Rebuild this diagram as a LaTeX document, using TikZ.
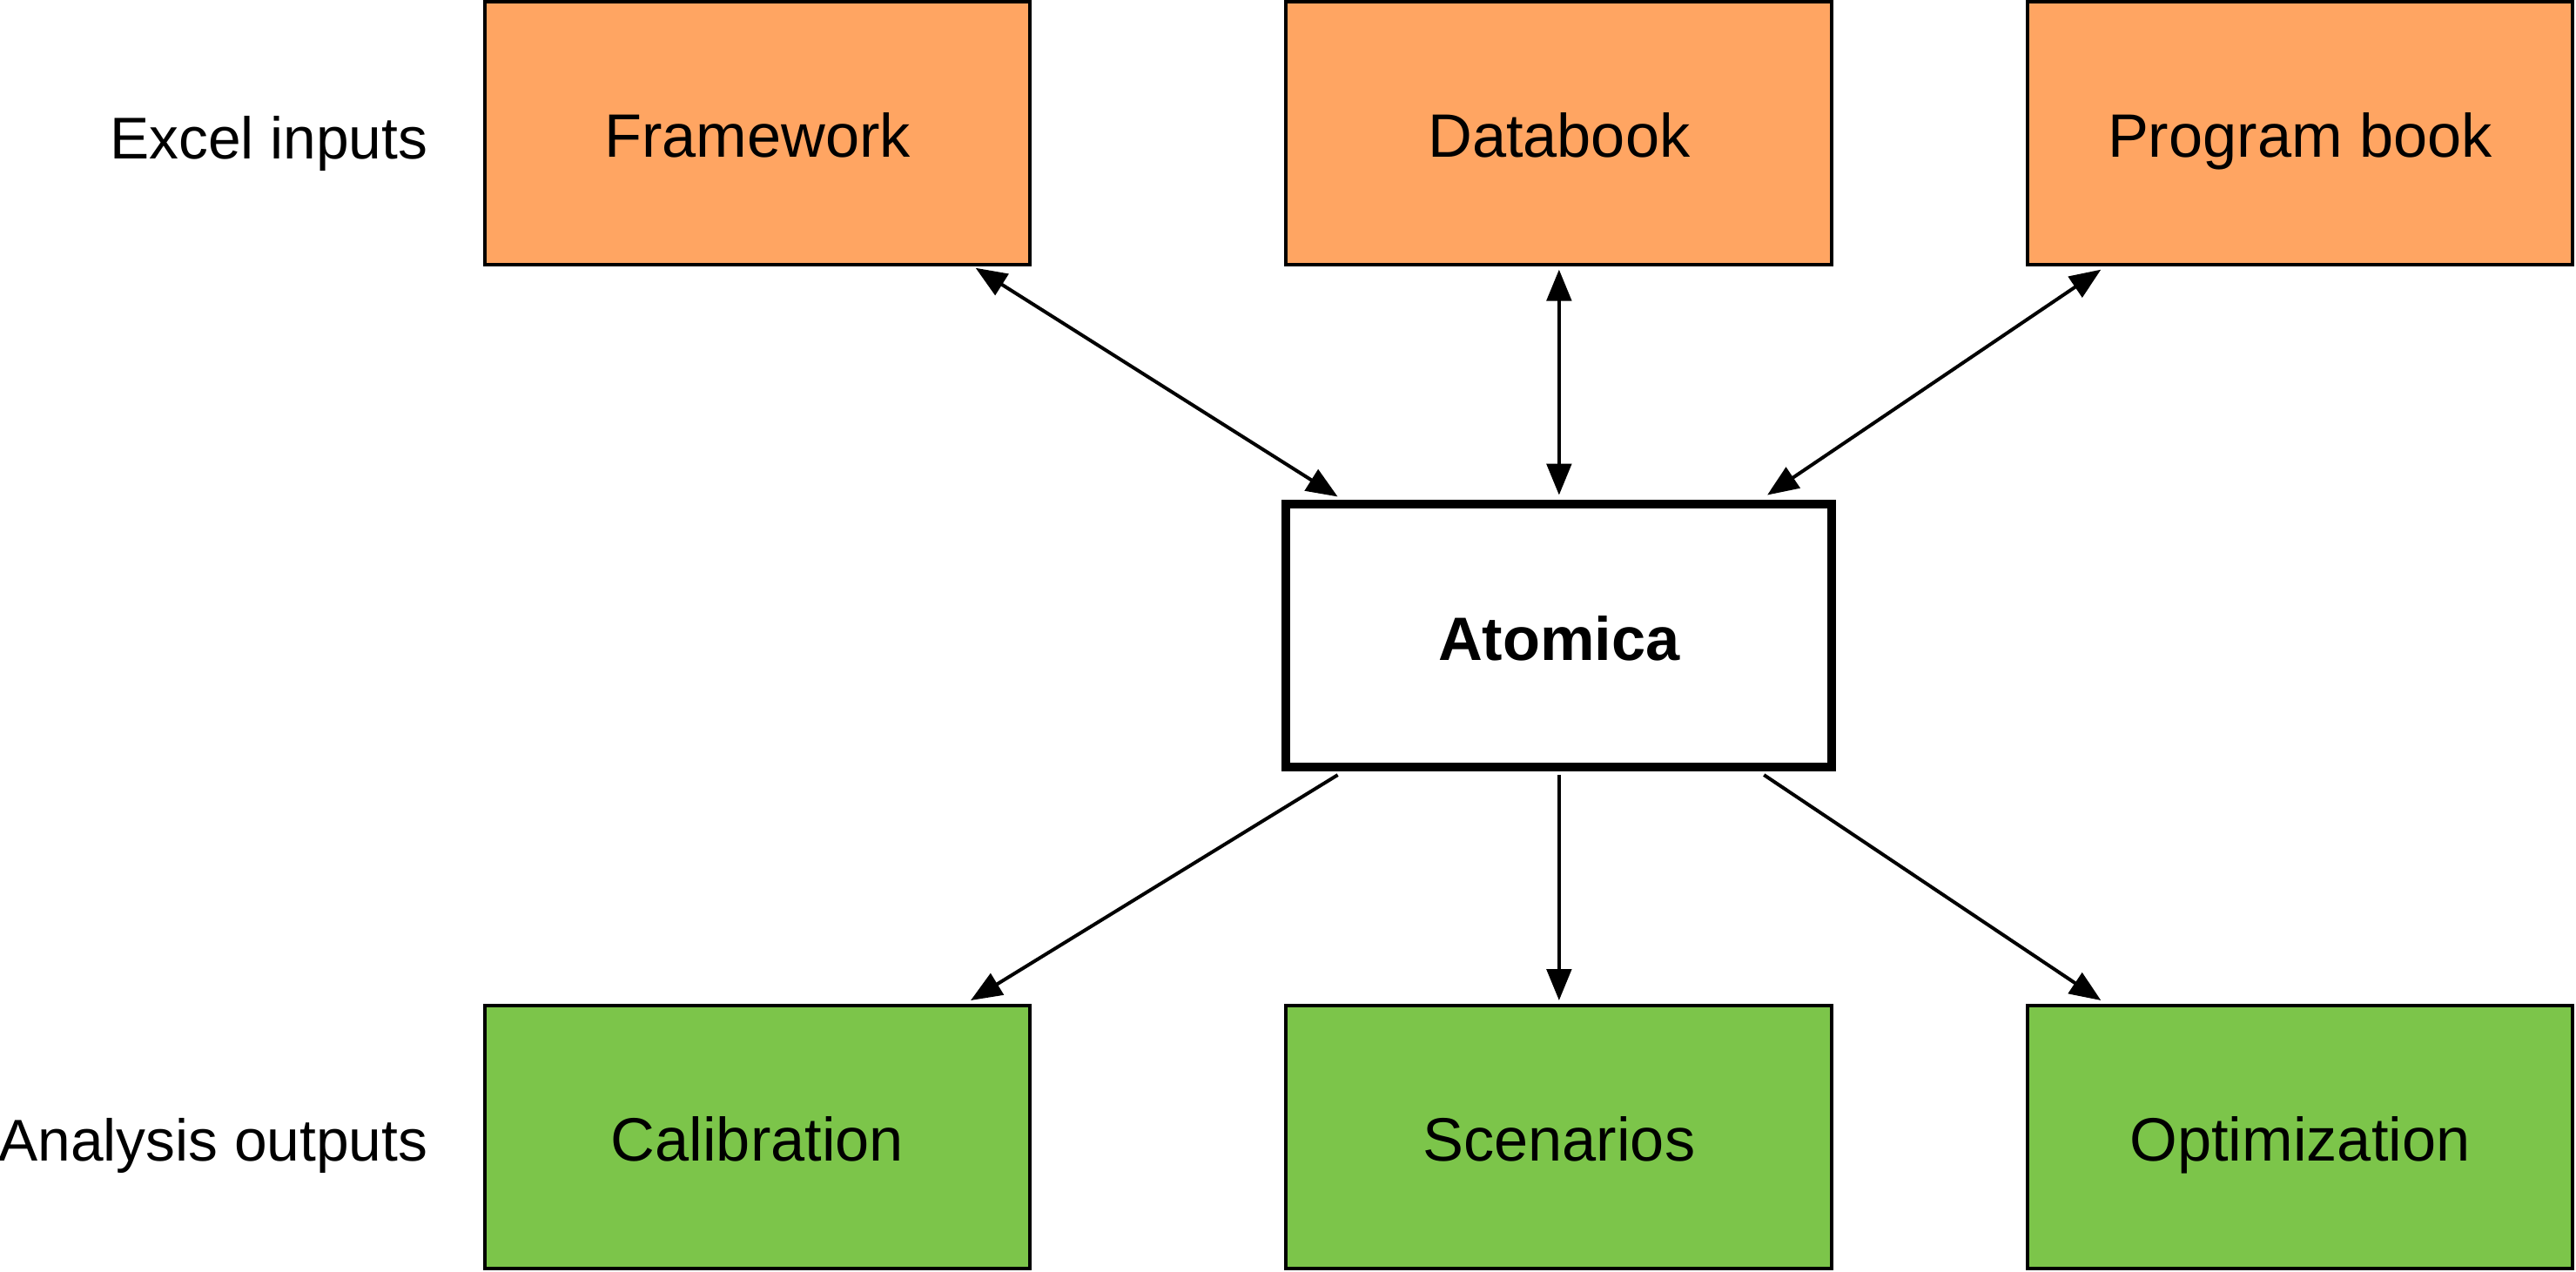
\documentclass[tikz,border=0pt]{standalone}
\usepackage{fontspec}
\setmainfont{Liberation Sans}
\usetikzlibrary{arrows.meta,calc}
\definecolor{inorange}{HTML}{FFA562}
\definecolor{outgreen}{HTML}{7CC54A}
\begin{document}
\begin{tikzpicture}[x=0.01cm,y=-0.01cm,
  box/.style={draw=black,line width=0.6pt,minimum width=3.32cm,minimum height=1.60cm,inner sep=0pt,text height=2.1ex,text depth=0.5ex,font=\fontsize{10.6}{12}\selectfont},
  inbox/.style={box,fill=inorange},
  outbox/.style={box,fill=outgreen},
  lab/.style={font=\fontsize{10.2}{12}\selectfont,anchor=east,inner sep=0pt,text height=2.1ex,text depth=0.5ex},
  arr/.style={line width=0.6pt,-{Triangle[length=0.19cm,width=0.15cm]}},
  darr/.style={line width=0.6pt,{Triangle[length=0.19cm,width=0.15cm]}-{Triangle[length=0.19cm,width=0.15cm]}}]
\useasboundingbox (0,0) rectangle (1568,774);
\node[inbox] (fw) at (461,81) {Framework};
\node[inbox] (db) at (949,81) {Databook};
\node[inbox] (pb) at (1400,81) {Program book};
\node[box,line width=1.5pt,font=\fontsize{10.6}{12}\selectfont\bfseries] (at) at (949,387) {Atomica};
\node[outbox] (ca) at (461,692) {Calibration};
\node[outbox] (sc) at (949,692) {Scenarios};
\node[outbox] (op) at (1400,692) {Optimization};
\node[lab] (ei) at (261,82) {Excel inputs};
\node[lab] (ao) at (261,692) {Analysis outputs};
\draw[darr] ($(fw.south west)+(300,1)$) -- ($(at.north west)+(34,-2)$);
\draw[darr] ($(db.south)+(0,2)$) -- ($(at.north)+(0,-3)$);
\draw[darr] ($(pb.south west)+(46,2)$) -- ($(at.north east)+(-42,-3)$);
\draw[arr] ($(at.south west)+(34,2)$) -- ($(ca.north west)+(297,-2)$);
\draw[arr] ($(at.south)+(0,2)$) -- ($(sc.north)+(0,-2)$);
\draw[arr] ($(at.south east)+(-44,2)$) -- ($(op.north west)+(46,-2)$);
\end{tikzpicture}
\end{document}
